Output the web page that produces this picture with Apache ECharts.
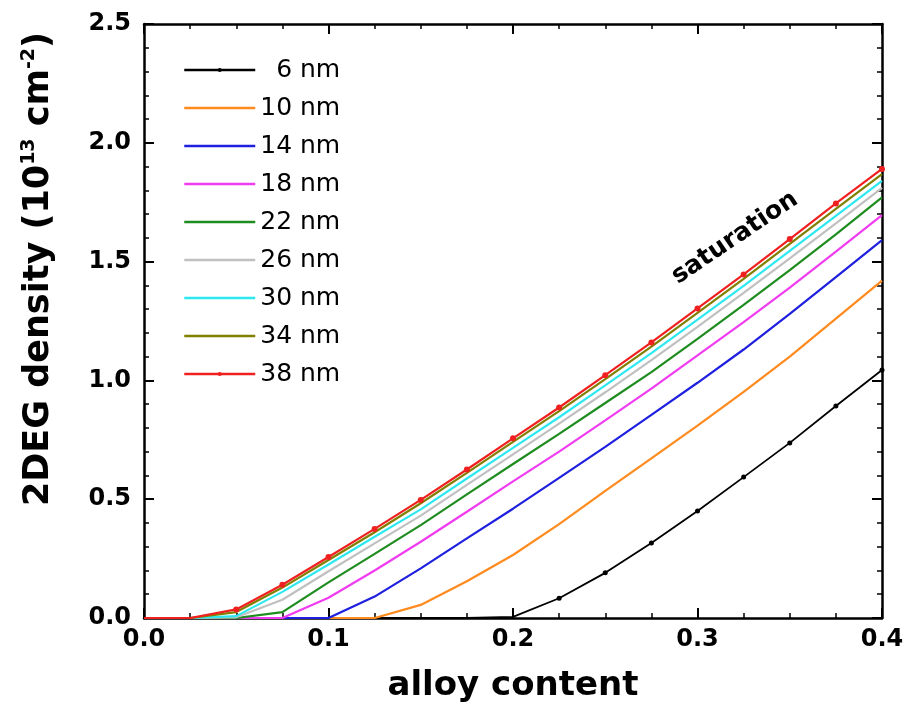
<!DOCTYPE html>
<html>
<head>
<meta charset="utf-8">
<script src="https://cdn.jsdelivr.net/npm/echarts@6/dist/echarts.min.js"></script>
<style>
html,body{margin:0;padding:0;background:#fff;}
#chart{width:908px;height:722px;}
</style>
</head>
<body>
<div id="chart"></div>
<script>
const xs = [0,0.025,0.05,0.075,0.1,0.125,0.15,0.175,0.2,0.225,0.25,0.275,0.3,0.325,0.35,0.375,0.4];
const xTicks = [0.0,0.1,0.2,0.3,0.4];
const yTicks = [0.0,0.5,1.0,1.5,2.0,2.5];
const seriesNames = ['6 nm','10 nm','14 nm','18 nm','22 nm','26 nm','30 nm','34 nm','38 nm'];
const nm6  = [0,0,0,0,0,0,0,0,0.005,0.083,0.19,0.316,0.45,0.593,0.737,0.892,1.044];
const nm10 = [0,0,0,0,0,0,0.055,0.155,0.265,0.395,0.535,0.672,0.81,0.952,1.10,1.26,1.42];
const nm14 = [0,0,0,0,0,0.09,0.209,0.335,0.46,0.59,0.72,0.855,0.99,1.13,1.28,1.435,1.59];
const nm18 = [0,0,0,0,0.085,0.2,0.321,0.447,0.575,0.70,0.832,0.965,1.105,1.245,1.39,1.542,1.696];
const nm22 = [0,0,0,0.025,0.15,0.27,0.391,0.52,0.648,0.775,0.905,1.035,1.175,1.318,1.464,1.615,1.77];
const nm26 = [0,0,0.003,0.077,0.197,0.314,0.431,0.56,0.689,0.818,0.95,1.085,1.225,1.368,1.514,1.661,1.81];
const nm30 = [0,0,0.008,0.11,0.225,0.342,0.457,0.587,0.716,0.845,0.979,1.115,1.256,1.398,1.545,1.692,1.84];
const nm34 = [0,0,0.025,0.128,0.244,0.361,0.483,0.611,0.741,0.871,1.005,1.142,1.284,1.427,1.575,1.722,1.868];
const nm38 = [0,0,0.036,0.14,0.257,0.375,0.497,0.625,0.756,0.886,1.022,1.16,1.303,1.446,1.595,1.745,1.89];
const allValues = [nm6,nm10,nm14,nm18,nm22,nm26,nm30,nm34,nm38];
const colors = ['#000000','#ff8a1e','#1f1fdf','#f03cf0','#1e8c1e','#c0c0c0','#2ee8f0','#808000','#f02020'];
const withMarkers = [true,false,false,false,false,false,false,false,true];
const annotation = 'saturation';

const FONT = 'DejaVu Sans';
const chart = echarts.init(document.getElementById('chart'), null, {renderer:'canvas'});

const series = seriesNames.map((n,i)=>({
  name: n,
  type: 'line',
  data: xs.map((x,j)=>[x, allValues[i][j]]),
  symbol: withMarkers[i] ? 'circle' : 'none',
  symbolSize: withMarkers[i] ? (v => v[1] < 0.01 ? 0 : (i === 0 ? 5 : 6)) : 0,
  showSymbol: withMarkers[i],
  lineStyle: {color: colors[i], width: i===0 ? 1.8 : 2.2},
  itemStyle: {color: colors[i]},
  smooth: false,
  animation: false,
  z: 2 + i
}));

const axisCommon = {
  type: 'value',
  axisLine: {show: true, onZero: false, lineStyle: {color: '#000', width: 2.5}},
  axisTick: {show: true, inside: true, length: 10, lineStyle: {color: '#000', width: 2}},
  minorTick: {show: true, length: 5, lineStyle: {color: '#000', width: 1.5}},
  splitLine: {show: false}
};

const legendData = seriesNames.map((n,i)=> withMarkers[i]
  ? {name: n}
  : {name: n, itemStyle: {opacity: 0}});

const option = {
  backgroundColor: '#fff',
  animation: false,
  grid: {left: 144, right: 26, top: 24, bottom: 104, containLabel: false},
  legend: {
    orient: 'vertical',
    left: 178,
    top: 52,
    itemWidth: 71,
    itemHeight: 5,
    itemGap: 12,
    lineStyle: {width: 2.5},
    textStyle: {fontFamily: FONT, fontSize: 25, color: '#000', lineHeight: 26},
    formatter: function(name){ return name.length < 5 ? '  ' + name : name; },
    data: legendData
  },
  xAxis: [
    Object.assign({}, axisCommon, {
      min: 0, max: 0.4, interval: 0.1, position: 'bottom',
      minorTick: Object.assign({}, axisCommon.minorTick, {splitNumber: 4}),
      axisLabel: {show: true, margin: 10, fontFamily: FONT, fontWeight: 'bold', fontSize: 24, color: '#000',
        formatter: v => xTicks.some(t => Math.abs(t - v) < 1e-9) ? v.toFixed(1) : ''},
      name: 'alloy content', nameLocation: 'middle', nameGap: 51,
      nameTextStyle: {fontFamily: FONT, fontWeight: 'bold', fontSize: 34, color: '#000'}
    }),
    Object.assign({}, axisCommon, {
      min: 0, max: 0.4, interval: 0.1, position: 'top',
      minorTick: Object.assign({}, axisCommon.minorTick, {splitNumber: 4}),
      axisLabel: {show: false}
    })
  ],
  yAxis: [
    Object.assign({}, axisCommon, {
      min: 0, max: 2.5, interval: 0.5, position: 'left',
      minorTick: Object.assign({}, axisCommon.minorTick, {splitNumber: 5}),
      axisLabel: {show: true, margin: 13, fontFamily: FONT, fontWeight: 'bold', fontSize: 24, color: '#000',
        formatter: v => yTicks.some(t => Math.abs(t - v) < 1e-9) ? v.toFixed(1) : ''},
      name: '2DEG density (10{sup|13} cm{sup|-2})',
      nameLocation: 'middle', nameGap: 86, nameRotate: 90,
      nameTextStyle: {
        fontFamily: FONT, fontWeight: 'bold', fontSize: 35, color: '#000', lineHeight: 38,
        padding: [0, 0, 0, 104],
        rich: {sup: {fontFamily: FONT, fontWeight: 'bold', fontSize: 19, color: '#000', verticalAlign: 'top', lineHeight: 38}}
      }
    }),
    Object.assign({}, axisCommon, {
      min: 0, max: 2.5, interval: 0.5, position: 'right',
      minorTick: Object.assign({}, axisCommon.minorTick, {splitNumber: 5}),
      axisLabel: {show: false}
    })
  ],
  graphic: [{
    type: 'text',
    x: 735, y: 238,
    rotation: 34 * Math.PI / 180,
    z: 100,
    style: {text: annotation, font: 'bold 25px "DejaVu Sans"', fill: '#000', align: 'center', verticalAlign: 'middle', textAlign: 'center', textVerticalAlign: 'middle'}
  }],
  series: series
};
chart.setOption(option);
</script>
</body>
</html>
